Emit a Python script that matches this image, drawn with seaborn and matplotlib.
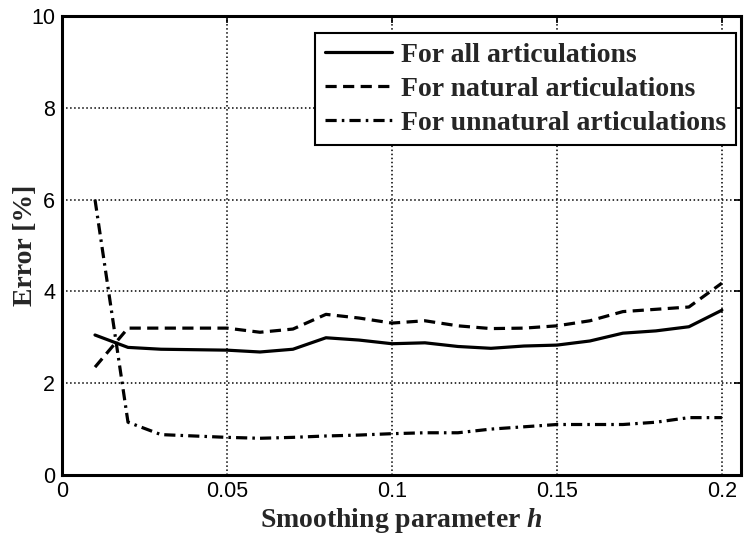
import matplotlib
matplotlib.use("Agg")
import matplotlib.pyplot as plt
import seaborn as sns
import pandas as pd
import numpy as np

h_values = [0.01, 0.02, 0.03, 0.04, 0.05, 0.06, 0.07, 0.08, 0.09, 0.10,
            0.11, 0.12, 0.13, 0.14, 0.15, 0.16, 0.17, 0.18, 0.19, 0.20]
err_all = [3.05, 2.78, 2.74, 2.73, 2.72, 2.68, 2.74, 2.99, 2.94, 2.86,
           2.88, 2.80, 2.76, 2.81, 2.83, 2.92, 3.09, 3.14, 3.23, 3.59]
err_natural = [2.35, 3.20, 3.20, 3.20, 3.20, 3.11, 3.18, 3.50, 3.42, 3.31,
               3.36, 3.25, 3.19, 3.20, 3.25, 3.36, 3.56, 3.61, 3.66, 4.18]
err_unnatural = [6.00, 1.15, 0.88, 0.85, 0.82, 0.80, 0.82, 0.85, 0.87, 0.90,
                 0.92, 0.92, 1.00, 1.05, 1.10, 1.10, 1.10, 1.15, 1.25, 1.25]
labels = ["For all articulations", "For natural articulations",
          "For unnatural articulations"]
x_ticks = [0, 0.05, 0.1, 0.15, 0.2]
x_ticklabels = ["0", "0.05", "0.1", "0.15", "0.2"]
y_ticks = [0, 2, 4, 6, 8, 10]

sns.set_style("white")
plt.rcParams['font.family'] = ['Liberation Serif', 'DejaVu Serif']
plt.rcParams['mathtext.fontset'] = 'custom'
plt.rcParams['mathtext.rm'] = 'Liberation Serif'
plt.rcParams['mathtext.it'] = 'Liberation Serif:italic:bold'
plt.rcParams['mathtext.bf'] = 'Liberation Serif:bold'
plt.rcParams['mathtext.bfit'] = 'Liberation Serif:italic:bold'

df = pd.DataFrame({
    "h": h_values * 3,
    "err": err_all + err_natural + err_unnatural,
    "series": [labels[0]] * 20 + [labels[1]] * 20 + [labels[2]] * 20,
})

fig = plt.figure(figsize=(7.47, 5.34), dpi=100)
ax = fig.add_axes([0.083, 0.1105, 0.909, 0.8595])

sns.lineplot(data=df, x="h", y="err", hue="series", style="series",
             palette=["black"] * 3,
             dashes={labels[0]: "", labels[1]: (3.5, 2.0),
                     labels[2]: (3.5, 1.6, 0.8, 1.6)},
             linewidth=2.3, ax=ax, legend=True)

ax.set_xlim(0, 0.2058)
ax.set_ylim(0, 10)
ax.set_xticks(x_ticks)
ax.set_xticklabels(x_ticklabels)
ax.set_yticks(y_ticks)

for t in ax.get_xticklabels() + ax.get_yticklabels():
    t.set_family(['Liberation Sans', 'DejaVu Sans'])
    t.set_fontsize(15.5)

ax.tick_params(direction='in', length=5, width=1.2, top=True, right=True,
               colors='black')
ax.tick_params(axis='x', pad=4)
ax.tick_params(axis='y', pad=5)
ax.grid(True, linestyle=':', color='black', linewidth=1.1)
for s in ax.spines.values():
    s.set_linewidth(2.2)
    s.set_color('black')

ax.set_xlabel("Smoothing parameter $\\mathit{h}$", fontsize=20,
              fontweight='bold', labelpad=3)
ax.set_ylabel("Error [%]", fontsize=20, fontweight='bold')
ax.yaxis.set_label_coords(-0.036, 0.5)

handles, lbls = ax.get_legend_handles_labels()
leg = ax.legend(handles=handles, labels=lbls, loc='upper right',
                bbox_to_anchor=(0.993, 0.963), borderaxespad=0,
                fancybox=False, edgecolor='black', framealpha=1,
                prop={'family': 'Liberation Serif', 'weight': 'bold', 'size': 20},
                handlelength=2.4, handletextpad=0.35, labelspacing=0.3,
                borderpad=0.35)
leg.get_frame().set_linewidth(1.5)
for line in leg.get_lines():
    line.set_linewidth(2.3)

fig.savefig("out.png", dpi=100)
